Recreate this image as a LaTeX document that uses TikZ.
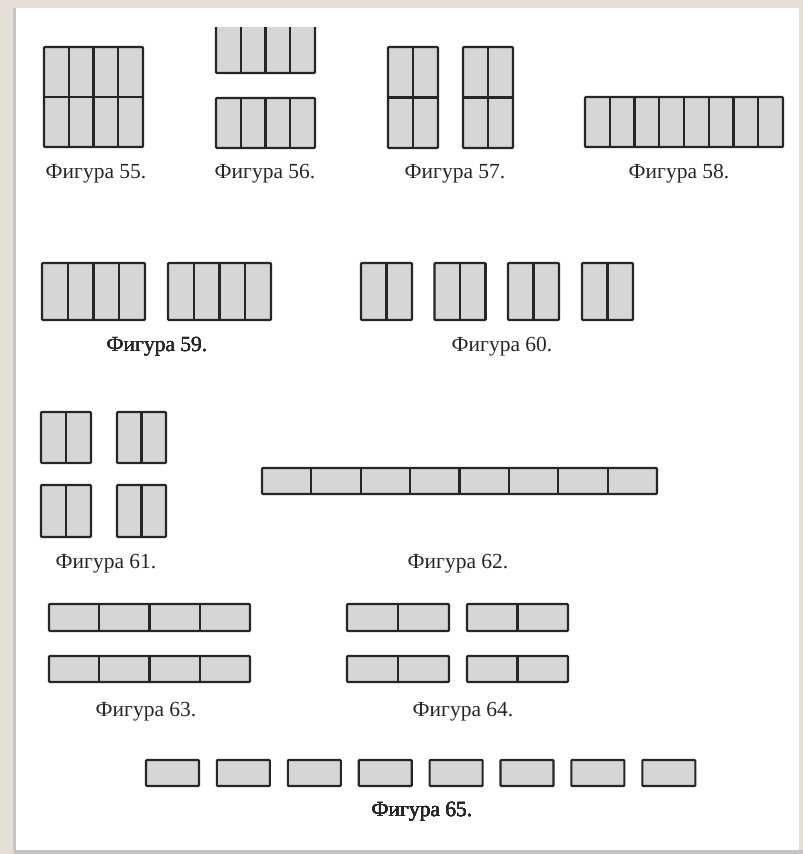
\documentclass[tikz,border=0pt]{standalone}
\definecolor{desk}    {HTML}{E4DED4}
\definecolor{sheet}   {HTML}{FFFFFF}
\definecolor{edge}    {HTML}{C4C4C2}
\definecolor{ink}     {HTML}{262626}
\definecolor{tilegray}{HTML}{D6D6D6}
\usepackage{fontspec}
\setmainfont{Liberation Serif}
\usepackage{tikz}
\usetikzlibrary{positioning,calc}
\tikzset{
  plate/.style={draw=ink,line width=2.1pt,fill=tilegray,rounded corners=0.8pt},
  plateline/.style={draw=ink,line width=2.1pt},
  caption/.style={anchor=base,inner sep=0pt,font=\fontsize{21.5}{21.5}\selectfont,text=ink}
}
% left, top, right, bottom, columns, rows
\newcommand{\plate}[6]{%
  \filldraw[plate] (#1,#2) rectangle (#3,#4);
  \foreach \k in {1,...,#5}
    \draw[plateline] ({#1+(#3-#1)*\k/#5},#2) -- ({#1+(#3-#1)*\k/#5},#4);
  \foreach \k in {1,...,#6}
    \draw[plateline] (#1,{#2+(#4-#2)*\k/#6}) -- (#3,{#2+(#4-#2)*\k/#6});
}

\begin{document}
\begin{tikzpicture}[x=1pt,y=-1pt]
  \fill[desk] (0,0) rectangle (803,854);
  \useasboundingbox (0,0) rectangle (803,854);
  \fill[sheet] (14,8) rectangle (800,851);
  \fill[edge] (13,8) rectangle (15.5,851);
  \fill[edge!60] (798.5,8) rectangle (800,851);
  \fill[edge] (14,849.5) rectangle (803,854);

  % row one
  \plate{44}{47}{143}{147}{4}{2}
  \begin{scope}
    \clip (200,27) rectangle (330,90);
    \plate{216}{15}{315}{73}{4}{1}
  \end{scope}
  \plate{216}{98}{315}{148}{4}{1}
  \plate{388}{47}{438}{148}{2}{2}
  \plate{463}{47}{513}{148}{2}{2}
  \plate{585}{97}{783}{147}{8}{1}
  \node[caption] (f55) at (96,178) {Фигура 55.};
  \node[caption] (f56) at (265,178) {Фигура 56.};
  \node[caption] (f57) at (455,178) {Фигура 57.};
  \node[caption] (f58) at (679,178) {Фигура 58.};

  % row two
  \plate{42}{263}{145}{320}{4}{1}
  \plate{168}{263}{271}{320}{4}{1}
  \foreach \x in {361,434.5,508,582}
    \plate{\x}{263}{\x+51}{320}{2}{1}
  \node[caption] (f59) at (157,351.3) {Фигура 59.};
  \node[caption] (f60) at (502,351) {Фигура 60.};

  % row three
  \plate{41}{412}{91}{463}{2}{1}
  \plate{117}{412}{166}{463}{2}{1}
  \plate{41}{485}{91}{537}{2}{1}
  \plate{117}{485}{166}{537}{2}{1}
  \plate{262}{468}{657}{494}{8}{1}
  \node[caption] (f61) at (106,568) {Фигура 61.};
  \node[caption] (f62) at (458,568) {Фигура 62.};

  % row four
  \plate{49}{604}{250}{631}{4}{1}
  \plate{49}{656}{250}{682}{4}{1}
  \plate{347}{604}{449}{631}{2}{1}
  \plate{467}{604}{568}{631}{2}{1}
  \plate{347}{656}{449}{682}{2}{1}
  \plate{467}{656}{568}{682}{2}{1}
  \node[caption] (f63) at (146,716) {Фигура 63.};
  \node[caption] (f64) at (463,716) {Фигура 64.};

  % row five
  \foreach \i in {0,...,7}
    \plate{146+70.9*\i}{760}{199+70.9*\i}{786}{1}{1}
  \node[caption] (f65) at (422,816.3) {Фигура 65.};
\end{tikzpicture}
\end{document}
